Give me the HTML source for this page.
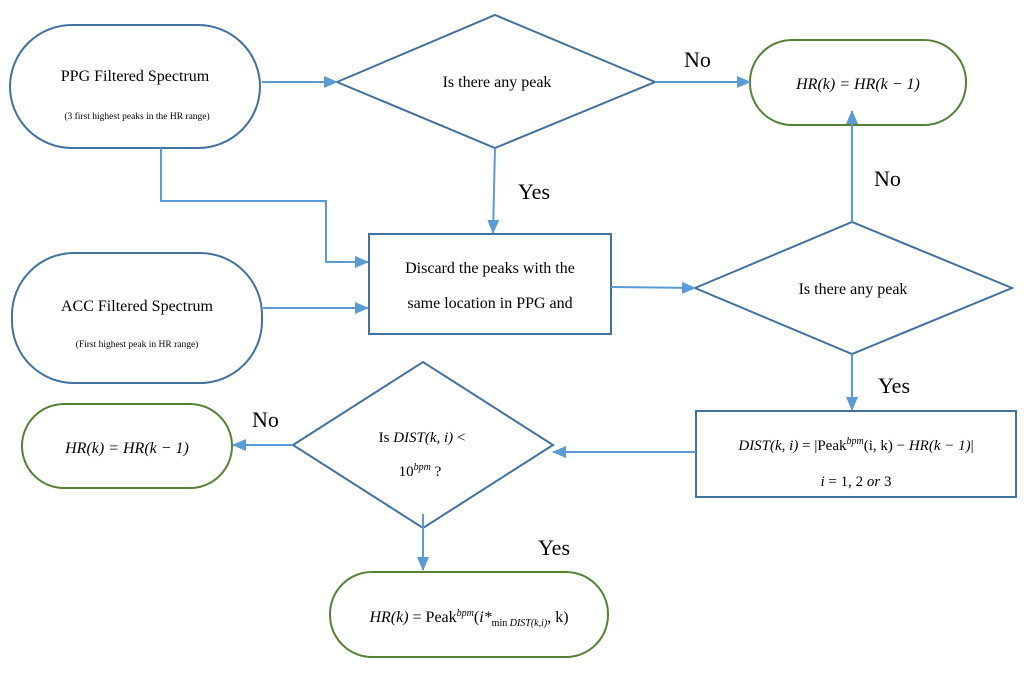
<!DOCTYPE html>
<html><head><style>
body{margin:0;background:#fff}
svg text{font-family:"Liberation Serif",serif;fill:#000}
.m{font-family:"Liberation Serif",serif;font-style:italic}
</style></head><body>
<svg width="1024" height="675" viewBox="0 0 1024 675" xmlns="http://www.w3.org/2000/svg">
<defs><marker id="a" markerWidth="14" markerHeight="12" refX="13" refY="6" orient="auto" markerUnits="userSpaceOnUse"><path d="M0,0L14,6L0,12z" fill="#5b9bd5"/></marker></defs>
<g fill="none" stroke="#41719c" stroke-width="2">
<rect x="10" y="25" width="250" height="123" rx="62"/>
<rect x="12" y="253" width="250" height="130" rx="62"/>
<polygon points="337,82 495,15 655,82 495,148"/>
<rect x="369" y="234" width="242" height="100"/>
<polygon points="695,288 852,222 1012,288 852,354"/>
<rect x="696" y="411" width="320" height="86"/>
<polygon points="293,445 423,362 553,445 423,528"/>
</g>
<g fill="none" stroke="#548235" stroke-width="2">
<rect x="750" y="40" width="216" height="85" rx="42"/>
<rect x="22" y="404" width="210" height="84" rx="42"/>
<rect x="330" y="572" width="278" height="85" rx="42"/>
</g>
<g fill="none" stroke="#5b9bd5" stroke-width="2" marker-end="url(#a)">
<path d="M262,82H337"/>
<path d="M655,82H750"/>
<path d="M495,148L493,233"/>
<path d="M161,148V201H326V262H368"/>
<path d="M263,308H368"/>
<path d="M611,287L695,288"/>
<path d="M852,222V111"/>
<path d="M852,354V410"/>
<path d="M696,452H553"/>
<path d="M293,445H233"/>
<path d="M423,514V570"/>
</g>
<g font-size="16" text-anchor="middle">
<text x="135" y="81">PPG Filtered Spectrum</text>
<text x="137" y="119" font-size="9.5">(3 first highest peaks in the HR range)</text>
<text x="137" y="311">ACC Filtered Spectrum</text>
<text x="137" y="347" font-size="9.5">(First highest peak in HR range)</text>
<text x="497" y="87">Is there any peak</text>
<text x="490" y="273">Discard the peaks with the</text>
<text x="490" y="308">same location in PPG and</text>
<text x="853" y="294">Is there any peak</text>
<text x="858" y="89" class="m">HR(k) = HR(k − 1)</text>
<text x="127" y="453" class="m">HR(k) = HR(k − 1)</text>
<text x="856" y="450" font-size="15"><tspan class="m">DIST(k, i)</tspan> = |Peak<tspan font-size="10" dy="-6" class="m">bpm</tspan><tspan dy="6">(i, k) − </tspan><tspan class="m">HR(k − 1)</tspan>|</text>
<text x="856" y="486" font-size="15"><tspan class="m">i</tspan> = 1, 2 <tspan class="m">or</tspan> 3</text>
<text x="422" y="442" font-size="15">Is <tspan class="m">DIST(k, i)</tspan> &lt;</text>
<text x="420" y="476" font-size="15">10<tspan font-size="10" dy="-6" class="m">bpm</tspan><tspan dy="6"> ?</tspan></text>
<text x="469" y="622"><tspan class="m">HR(k)</tspan> = Peak<tspan font-size="10" dy="-6" class="m">bpm</tspan><tspan dy="6">(</tspan><tspan class="m">i*</tspan><tspan font-size="10" dy="4">min </tspan><tspan font-size="10" class="m">DIST(k,i)</tspan><tspan dy="-4">, k)</tspan></text>
</g>
<g font-size="22">
<text x="684" y="67">No</text>
<text x="518" y="199">Yes</text>
<text x="874" y="186">No</text>
<text x="878" y="393">Yes</text>
<text x="252" y="427">No</text>
<text x="538" y="555">Yes</text>
</g>
</svg>
</body></html>
